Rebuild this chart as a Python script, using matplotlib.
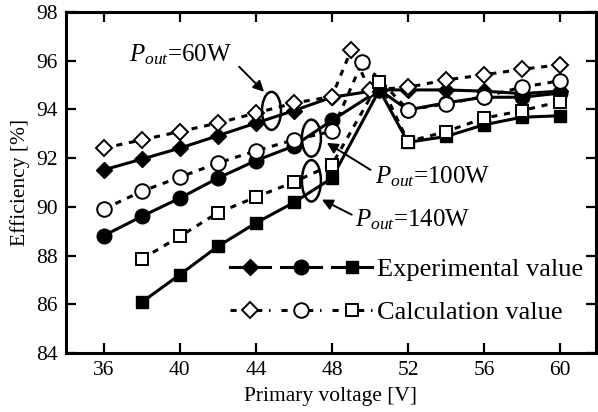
import matplotlib
matplotlib.use("Agg")
import matplotlib.pyplot as plt
from matplotlib.patches import Ellipse
from matplotlib.legend_handler import HandlerTuple

plt.rcParams['font.family'] = ['Liberation Serif', 'DejaVu Serif']
plt.rcParams['mathtext.fontset'] = 'custom'
plt.rcParams['mathtext.rm'] = 'Liberation Serif'
plt.rcParams['mathtext.it'] = 'Liberation Serif:italic'

# 实验值
v_exp = [36, 38, 40, 42, 44, 46, 48, 50.5, 52, 54, 56, 58, 60]
eff_exp_60 = [91.52, 91.96, 92.41, 92.92, 93.44, 93.95, 94.5, 94.8, 94.8, 94.8, 94.75, 94.65, 94.75]
eff_exp_100 = [88.82, 89.61, 90.36, 91.18, 91.9, 92.5, 93.55, 94.8, 93.98, 94.27, 94.5, 94.5, 94.67]
v_exp_140 = [38, 40, 42, 44, 46, 48, 50.5, 52, 54, 56, 58, 60]
eff_exp_140 = [86.09, 87.22, 88.38, 89.34, 90.18, 91.18, 94.8, 92.65, 92.89, 93.37, 93.68, 93.74]

# 计算值
v_cal_60 = [36, 38, 40, 42, 44, 46, 48, 49, 50, 52, 54, 56, 58, 60]
eff_cal_60 = [92.41, 92.75, 93.09, 93.44, 93.85, 94.26, 94.53, 96.42, 94.8, 94.91, 95.21, 95.42, 95.65, 95.83]
v_cal_100 = [36, 38, 40, 42, 44, 46, 48, 49.6, 52, 54, 56, 58, 60]
eff_cal_100 = [89.91, 90.64, 91.22, 91.8, 92.3, 92.75, 93.1, 95.96, 93.98, 94.23, 94.53, 94.91, 95.18]
v_cal_140 = [38, 40, 42, 44, 46, 48, 50.5, 52, 54, 56, 58, 60]
eff_cal_140 = [87.86, 88.79, 89.76, 90.4, 91.02, 91.73, 95.14, 92.68, 93.09, 93.64, 93.95, 94.32]

fig = plt.figure(figsize=(5.98, 4.12), dpi=100)
ax = fig.add_axes([0.110, 0.143, 0.887, 0.828])

lw = 2.2
dash = (0, (2.0, 2.2))
e1, = ax.plot(v_exp, eff_exp_60, '-', color='k', lw=lw, marker='D', ms=8,
              mfc='k', mec='k')
e2, = ax.plot(v_exp, eff_exp_100, '-', color='k', lw=lw, marker='o', ms=10.5,
              mfc='k', mec='k')
e3, = ax.plot(v_exp_140, eff_exp_140, '-', color='k', lw=lw, marker='s', ms=8.5,
              mfc='k', mec='k')
c1, = ax.plot(v_cal_60, eff_cal_60, linestyle=dash, color='k', lw=lw, marker='D',
              ms=8, mfc='white', mec='k', mew=1.4)
c2, = ax.plot(v_cal_100, eff_cal_100, linestyle=dash, color='k', lw=lw, marker='o',
              ms=10.5, mfc='white', mec='k', mew=1.4)
c3, = ax.plot(v_cal_140, eff_cal_140, linestyle=dash, color='k', lw=lw, marker='s',
              ms=8.5, mfc='white', mec='k', mew=1.4)

ax.set_xlim(34, 61.9)
ax.set_ylim(84, 98)
ax.set_xticks([36, 40, 44, 48, 52, 56, 60])
ax.set_yticks([84, 86, 88, 90, 92, 94, 96, 98])
ax.tick_params(direction='in', length=7, width=1.6, labelsize=15.5,
               top=True, right=True, pad=6)
for sp in ax.spines.values():
    sp.set_linewidth(2.2)
ax.set_xlabel("Primary voltage [V]", fontsize=15.5, labelpad=5)
ax.set_ylabel("Efficiency [%]", fontsize=15.5, labelpad=4)

# 椭圆
for cx, cy, h in [(44.82, 93.94, 1.56), (46.92, 92.82, 1.52), (46.92, 91.07, 1.7)]:
    ax.add_patch(Ellipse((cx, cy), 1.0, h, fill=False, lw=1.8, ec='k', zorder=5))

arrow = dict(arrowstyle='-|>', lw=1.4, color='k', mutation_scale=16, shrinkA=0, shrinkB=0)
ax.annotate('', xy=(44.43, 94.72), xytext=(43.12, 95.75), arrowprops=arrow)
ax.text(37.3, 96.24, r"$P_{out}$=60W", fontsize=18, va='center', ha='left')
ax.annotate('', xy=(47.73, 92.63), xytext=(50.03, 91.52), arrowprops=arrow)
ax.text(50.25, 91.24, r"$P_{out}$=100W", fontsize=18, va='center', ha='left')
ax.annotate('', xy=(47.47, 90.30), xytext=(49.04, 89.68), arrowprops=arrow)
ax.text(49.2, 89.48, r"$P_{out}$=140W", fontsize=18, va='center', ha='left')

ax.legend([(e1, e2, e3), (c1, c2, c3)], ["Experimental value", "Calculation value"],
          handler_map={tuple: HandlerTuple(ndivide=None, pad=0.4)},
          loc='center left', bbox_to_anchor=(0.309, 0.183), frameon=False,
          fontsize=19, handlelength=5.4, handletextpad=0.2, labelspacing=0.75,
          borderpad=0, borderaxespad=0, numpoints=1)

fig.savefig("out.png", dpi=100)
